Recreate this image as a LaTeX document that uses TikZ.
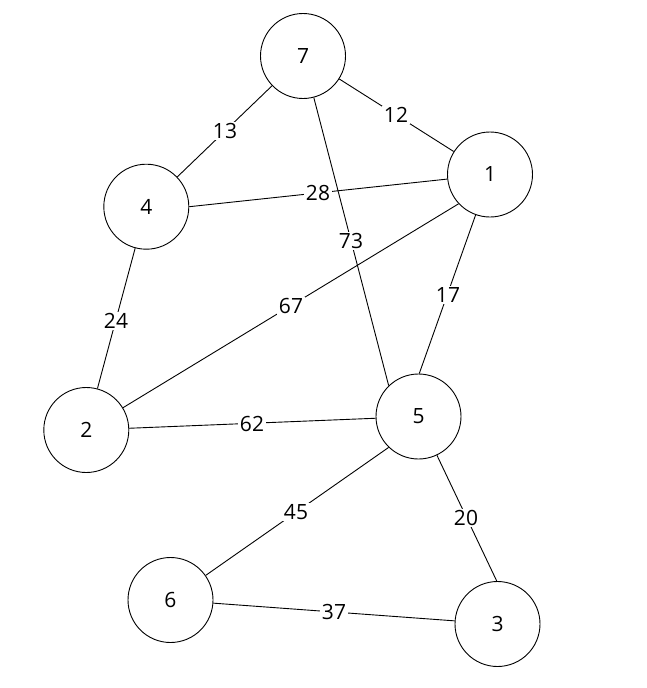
\documentclass[tikz,border=0pt]{standalone}
\usepackage{fontspec}
\setmainfont{Open Sans}
\begin{document}
\begin{tikzpicture}[x=1pt,y=-1pt,
  vtx/.style={circle,draw=black,line width=0.9pt,minimum size=85pt,inner sep=0pt,fill=white,font=\fontsize{21}{24}\selectfont},
  edge/.style={draw=black,line width=0.9pt},
  wt/.style={fill=white,inner sep=1.5pt,font=\fontsize{21}{24}\selectfont}]
\useasboundingbox (0,0) rectangle (646,688);
\node[vtx] (n7) at (303,56) {7};
\node[vtx] (n1) at (490,174.5) {1};
\node[vtx] (n4) at (146.3,206.7) {4};
\node[vtx] (n2) at (86.3,430) {2};
\node[vtx] (n5) at (418.5,416.5) {5};
\node[vtx] (n6) at (170.5,600) {6};
\node[vtx] (n3) at (497.5,624) {3};
\draw[edge] (n7) -- (n4);
\draw[edge] (n7) -- (n1);
\draw[edge] (n1) -- (n4.0);
\draw[edge] (n2) -- (n1.223);
\draw[edge] (n1) -- (n5.89);
\draw[edge] (n4) -- (n2);
\draw[edge] (n2) -- (n5);
\draw[edge] (n6) -- (n5.226);
\draw[edge] (n5) -- (n3.91);
\draw[edge] (n6) -- (n3);
\node[wt] (w13) at (225,131) {13};
\node[wt] (w12) at (396,115) {12};
\node[wt] (w28) at (318,193) {28};
\node[wt] (w17) at (448,295) {17};
\node[wt] (w67) at (291,306) {67};
\node[wt] (w24) at (116,321) {24};
\node[wt] (w62) at (252,424) {62};
\node[wt] (w45) at (296,512) {45};
\node[wt] (w20) at (466,518) {20};
\node[wt] (w37) at (334,612) {37};
\draw[edge] (n7) -- (n5.134);
\node[wt] (w73) at (351,241) {73};
\end{tikzpicture}
\end{document}
